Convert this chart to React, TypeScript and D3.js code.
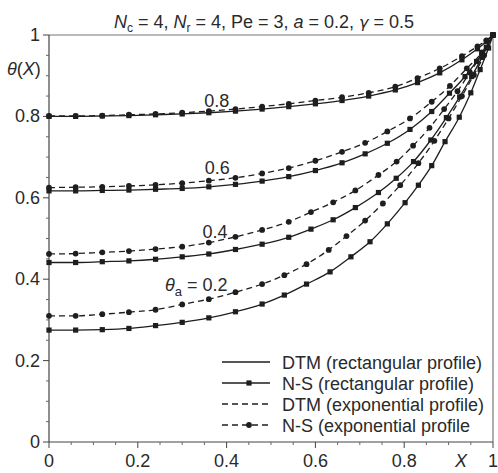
import React from "react";
import * as d3 from "d3";

// Dimensionless temperature θ(X) along the fin for four ambient temperatures θa.
const thetaA = [0.2, 0.4, 0.6, 0.8];

// Rectangular profile (DTM curve, N-S points)
const xRect02 = [0, 0.06, 0.12, 0.18, 0.24, 0.3, 0.36, 0.42, 0.48, 0.53, 0.58, 0.633, 0.68, 0.723, 0.762, 0.802, 0.832, 0.862, 0.892, 0.924, 0.95, 0.971, 0.99, 1];
const tRect02 = [0.275, 0.275, 0.276, 0.279, 0.286, 0.294, 0.305, 0.32, 0.339, 0.361, 0.388, 0.418, 0.455, 0.492, 0.536, 0.588, 0.631, 0.679, 0.738, 0.798, 0.858, 0.915, 0.968, 1];
const xRect04 = [0, 0.06, 0.12, 0.18, 0.24, 0.3, 0.36, 0.42, 0.48, 0.54, 0.59, 0.64, 0.69, 0.742, 0.782, 0.821, 0.86, 0.895, 0.925, 0.952, 0.975, 1];
const tRect04 = [0.441, 0.441, 0.443, 0.445, 0.449, 0.455, 0.462, 0.473, 0.486, 0.503, 0.523, 0.546, 0.576, 0.613, 0.648, 0.689, 0.742, 0.797, 0.848, 0.898, 0.945, 1];
const xRect06 = [0, 0.06, 0.12, 0.18, 0.24, 0.3, 0.36, 0.42, 0.48, 0.54, 0.6, 0.66, 0.712, 0.762, 0.813, 0.862, 0.902, 0.937, 0.963, 0.985, 1];
const tRect06 = [0.617, 0.617, 0.618, 0.619, 0.621, 0.623, 0.627, 0.633, 0.641, 0.652, 0.667, 0.686, 0.708, 0.734, 0.768, 0.812, 0.857, 0.898, 0.935, 0.97, 1];
const xRect08 = [0, 0.06, 0.12, 0.18, 0.24, 0.3, 0.36, 0.42, 0.48, 0.54, 0.6, 0.66, 0.72, 0.78, 0.83, 0.88, 0.93, 0.965, 0.985, 1];
const tRect08 = [0.8, 0.8, 0.801, 0.802, 0.804, 0.806, 0.809, 0.813, 0.818, 0.824, 0.831, 0.839, 0.85, 0.865, 0.883, 0.907, 0.939, 0.966, 0.984, 1];

// Exponential profile (DTM curve, N-S points)
const xExp02 = [0, 0.06, 0.12, 0.18, 0.24, 0.3, 0.36, 0.42, 0.48, 0.53, 0.58, 0.63, 0.67, 0.712, 0.752, 0.791, 0.832, 0.868, 0.9, 0.93, 0.957, 0.98, 1];
const tExp02 = [0.31, 0.31, 0.314, 0.319, 0.325, 0.338, 0.351, 0.368, 0.388, 0.41, 0.437, 0.472, 0.506, 0.544, 0.586, 0.631, 0.685, 0.74, 0.795, 0.85, 0.902, 0.95, 1];
const xExp04 = [0, 0.06, 0.12, 0.18, 0.24, 0.3, 0.36, 0.42, 0.48, 0.54, 0.59, 0.64, 0.69, 0.742, 0.783, 0.82, 0.857, 0.89, 0.92, 0.948, 0.975, 1];
const tExp04 = [0.462, 0.463, 0.466, 0.469, 0.474, 0.48, 0.49, 0.504, 0.521, 0.541, 0.565, 0.589, 0.618, 0.656, 0.689, 0.728, 0.772, 0.818, 0.862, 0.908, 0.953, 1];
const xExp06 = [0, 0.06, 0.12, 0.18, 0.24, 0.3, 0.36, 0.42, 0.48, 0.54, 0.6, 0.66, 0.712, 0.762, 0.813, 0.862, 0.903, 0.941, 0.975, 1];
const tExp06 = [0.625, 0.626, 0.627, 0.629, 0.632, 0.636, 0.642, 0.649, 0.66, 0.673, 0.691, 0.713, 0.735, 0.763, 0.795, 0.836, 0.875, 0.918, 0.957, 1];
const xExp08 = [0, 0.06, 0.12, 0.18, 0.24, 0.3, 0.36, 0.42, 0.48, 0.54, 0.6, 0.66, 0.72, 0.78, 0.83, 0.88, 0.93, 0.965, 0.985, 1];
const tExp08 = [0.801, 0.801, 0.802, 0.804, 0.806, 0.809, 0.813, 0.818, 0.824, 0.831, 0.839, 0.847, 0.858, 0.873, 0.894, 0.918, 0.948, 0.972, 0.987, 1];

const majorTicks = [0, 0.2, 0.4, 0.6, 0.8, 1];
const tickLabels = ["0", "0.2", "0.4", "0.6", "0.8", "1"];
const legendLabels = [
  "DTM (rectangular profile)",
  "N-S (rectangular profile)",
  "DTM (exponential profile)",
  "N-S (exponential profile",
];

const W = 498;
const H = 473;
const FONT = "'Liberation Sans', Arial, sans-serif";
const INK = "#1e1e1e";
const TEXT = "#2a2a2a";
const DASH = "6,4";

const x = d3.scaleLinear().domain([0, 1]).range([49, 493]);
const y = d3.scaleLinear().domain([0, 1]).range([442, 35]);

type Curve = { xs: number[]; ts: number[] };
const rectCurves: Curve[] = [
  { xs: xRect02, ts: tRect02 },
  { xs: xRect04, ts: tRect04 },
  { xs: xRect06, ts: tRect06 },
  { xs: xRect08, ts: tRect08 },
];
const expCurves: Curve[] = [
  { xs: xExp02, ts: tExp02 },
  { xs: xExp04, ts: tExp04 },
  { xs: xExp06, ts: tExp06 },
  { xs: xExp08, ts: tExp08 },
];

const lineGen = d3
  .line<[number, number]>()
  .x((d) => x(d[0]))
  .y((d) => y(d[1]))
  .curve(d3.curveMonotoneX);

const pts = (c: Curve): [number, number][] => c.xs.map((v, i) => [v, c.ts[i]]);

const minorTicks = d3.range(0, 1.0001, 0.05).filter((v) => Math.abs(v * 5 - Math.round(v * 5)) > 1e-6);

// Curve labels (value of θa next to each pair of curves)
const curveLabelPos = [
  { x: 0.402, y: 0.372 },
  { x: 0.374, y: 0.502 },
  { x: 0.379, y: 0.658 },
  { x: 0.378, y: 0.824 },
];

export default function App() {
  return (
    <svg
      width={W}
      height={H}
      style={{ position: "absolute", left: 0, top: 0, background: "#fff" }}
      fontFamily={FONT}
    >
      <rect width={W} height={H} fill="#fff" />

      {/* Title */}
      <text x={264} y={28} fontSize={18} textAnchor="middle" fill={TEXT}>
        <tspan fontStyle="italic">N</tspan>
        <tspan fontSize={12} dy={4}>c</tspan>
        <tspan dy={-4}> = 4, </tspan>
        <tspan fontStyle="italic">N</tspan>
        <tspan fontSize={12} dy={4}>r</tspan>
        <tspan dy={-4}> = 4, Pe = 3, </tspan>
        <tspan fontStyle="italic">a</tspan>
        <tspan> = 0.2, </tspan>
        <tspan fontStyle="italic" fontFamily="'DejaVu Sans', sans-serif" fontSize={16}>γ</tspan>
        <tspan> = 0.5</tspan>
      </text>

      {/* Frame */}
      <line x1={x(0)} x2={x(1)} y1={y(1)} y2={y(1)} stroke="#777" strokeWidth={1.2} />
      <line x1={x(1)} x2={x(1)} y1={y(1)} y2={y(0)} stroke="#777" strokeWidth={1.2} />

      {/* Axes */}
      <line x1={x(0)} x2={x(1)} y1={y(0)} y2={y(0)} stroke="#444" strokeWidth={1.2} />
      <line x1={x(0)} x2={x(0)} y1={y(0)} y2={y(1)} stroke="#444" strokeWidth={1.2} />

      {majorTicks.map((t, i) => (
        <g key={"mx" + i}>
          <line x1={x(t)} x2={x(t)} y1={y(0)} y2={y(0) + 6} stroke="#444" />
          <text x={x(t)} y={467} fontSize={18} textAnchor="middle" fill={TEXT}>
            {tickLabels[i]}
          </text>
          <line x1={x(0) - 6} x2={x(0)} y1={y(t)} y2={y(t)} stroke="#444" />
          <text x={40} y={y(t) + 6} fontSize={18} textAnchor="end" fill={TEXT}>
            {tickLabels[i]}
          </text>
        </g>
      ))}
      {minorTicks.map((t, i) => (
        <g key={"mn" + i}>
          <line x1={x(t)} x2={x(t)} y1={y(0)} y2={y(0) + 3} stroke="#666" />
          <line x1={x(0) - 3} x2={x(0)} y1={y(t)} y2={y(t)} stroke="#666" />
        </g>
      ))}

      {/* Axis titles */}
      <text x={7} y={75} fontSize={18} fill={TEXT}>
        <tspan fontStyle="italic">θ</tspan>
        <tspan>(</tspan>
        <tspan fontStyle="italic">X</tspan>
        <tspan>)</tspan>
      </text>
      <text x={461} y={467} fontSize={18} fontStyle="italic" textAnchor="middle" fill={TEXT}>
        X
      </text>

      {/* Rectangular profile: solid DTM line with N-S squares */}
      {rectCurves.map((c, i) => (
        <g key={"r" + i}>
          <path d={lineGen(pts(c)) || ""} fill="none" stroke={INK} strokeWidth={1.3} />
          {pts(c).map((p, j) => (
            <rect key={j} x={x(p[0]) - 2.6} y={y(p[1]) - 2.6} width={5.2} height={5.2} fill={INK} />
          ))}
        </g>
      ))}

      {/* Exponential profile: dashed DTM line with N-S dots */}
      {expCurves.map((c, i) => (
        <g key={"e" + i}>
          <path d={lineGen(pts(c)) || ""} fill="none" stroke={INK} strokeWidth={1.3} strokeDasharray={DASH} />
          {pts(c).map((p, j) => (
            <circle key={j} cx={x(p[0])} cy={y(p[1])} r={2.9} fill={INK} />
          ))}
        </g>
      ))}

      {/* θa labels */}
      {thetaA.map((v, i) =>
        i === 0 ? (
          <text key={i} x={x(curveLabelPos[i].x)} y={y(curveLabelPos[i].y)} fontSize={18} textAnchor="end" fill={TEXT}>
            <tspan fontStyle="italic">θ</tspan>
            <tspan fontSize={13} dy={5}>a</tspan>
            <tspan dy={-5}> = {v}</tspan>
          </text>
        ) : (
          <text key={i} x={x(curveLabelPos[i].x)} y={y(curveLabelPos[i].y)} fontSize={18} textAnchor="middle" fill={TEXT}>
            {v}
          </text>
        )
      )}

      {/* Legend */}
      {legendLabels.map((lab, i) => {
        const ly = 362 + i * 21;
        const dashed = i >= 2;
        return (
          <g key={"lg" + i}>
            <line
              x1={222}
              x2={270}
              y1={ly}
              y2={ly}
              stroke={INK}
              strokeWidth={1.3}
              strokeDasharray={dashed ? DASH : undefined}
            />
            {i === 1 && <rect x={246.4} y={ly - 2.6} width={5.2} height={5.2} fill={INK} />}
            {i === 3 && <circle cx={249} cy={ly} r={2.9} fill={INK} />}
            <text x={282} y={ly + 7} fontSize={18} fill={TEXT}>
              {lab}
            </text>
          </g>
        );
      })}
    </svg>
  );
}
